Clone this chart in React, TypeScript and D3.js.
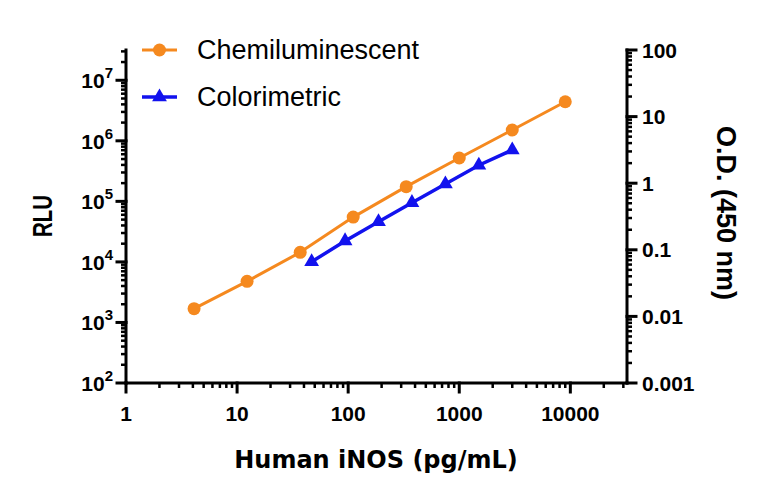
import React from "react";
import * as d3 from "d3";

const chemiConc = [4.1, 12.3, 37, 111, 333, 1000, 3000, 9000];
const chemiRLU = [1690, 4780, 14400, 55000, 175000, 520000, 1510000, 4420000];
const colorConc = [46.9, 93.75, 187.5, 375, 750, 1500, 3000];
const colorOD = [0.066, 0.136, 0.264, 0.51, 0.97, 1.86, 3.15];
const xMajor = [1, 10, 100, 1000, 10000];
const xMajorLabels = ["1", "10", "100", "1000", "10000"];
const leftExp = [2, 3, 4, 5, 6, 7];
const rightMajor = [0.001, 0.01, 0.1, 1, 10, 100];
const rightLabels = ["0.001", "0.01", "0.1", "1", "10", "100"];
const seriesNames = ["Chemiluminescent", "Colorimetric"];

const ORANGE = "#F5891F";
const BLUE = "#1212EE";
const TICKFONT = "'Liberation Sans', Arial, sans-serif";
const TITLEFONT = "'DejaVu Sans', sans-serif";
const NARROW = "'Liberation Sans Narrow', 'Liberation Sans', Arial, sans-serif";

function minors(lo: number, hi: number): number[] {
  const out: number[] = [];
  for (let e = Math.floor(Math.log10(lo)); e <= Math.ceil(Math.log10(hi)); e++) {
    for (let k = 2; k <= 9; k++) {
      const v = k * Math.pow(10, e);
      if (v > lo * 1.0001 && v < hi * 0.9999) out.push(v);
    }
  }
  return out;
}

export default function App() {
  const L = 126, R = 627, T = 50, B = 383;
  const xMax = Math.pow(10, 4.51);
  const x = d3.scaleLog().domain([1, xMax]).range([L, R]);
  const yL = d3.scaleLog().domain([100, Math.pow(10, 7.5)]).range([B, T]);
  const yR = d3.scaleLog().domain([0.001, 100]).range([B, T]);

  const chemiPts = chemiConc.map((c, i) => [x(c), yL(chemiRLU[i])] as [number, number]);
  const colorPts = colorConc.map((c, i) => [x(c), yR(colorOD[i])] as [number, number]);
  const line = d3.line();
  const tri = d3.symbol().type(d3.symbolTriangle).size(95)();

  const MAJ = 8, MIN = 5;

  return (
    <svg width={768} height={497} style={{ position: "absolute", left: 0, top: 0, background: "#fff" }}>
      <g stroke="#000" strokeLinecap="square">
        <line x1={L} x2={R} y1={B} y2={B} strokeWidth={3} />
        {xMajor.map((v) => (
          <line key={"xm" + v} x1={x(v)} x2={x(v)} y1={B} y2={B + MAJ + 1} strokeWidth={3} />
        ))}
        {minors(1, xMax).map((v) => (
          <line key={"xn" + v} x1={x(v)} x2={x(v)} y1={B} y2={B + MIN} strokeWidth={2.5} strokeLinecap="butt" />
        ))}
        <line x1={L} x2={L} y1={T} y2={B} strokeWidth={3} />
        {leftExp.map((e) => (
          <line key={"lm" + e} x1={L - MAJ - 1} x2={L} y1={yL(Math.pow(10, e))} y2={yL(Math.pow(10, e))} strokeWidth={3} />
        ))}
        {minors(100, Math.pow(10, 7.5)).map((v) => (
          <line key={"ln" + v} x1={L - MIN} x2={L} y1={yL(v)} y2={yL(v)} strokeWidth={2.5} strokeLinecap="butt" />
        ))}
        <line x1={R} x2={R} y1={T} y2={B} strokeWidth={3} />
        {rightMajor.map((v) => (
          <line key={"rm" + v} x1={R} x2={R + MAJ + 1} y1={yR(v)} y2={yR(v)} strokeWidth={3} />
        ))}
        {minors(0.001, 100).map((v) => (
          <line key={"rn" + v} x1={R} x2={R + MIN} y1={yR(v)} y2={yR(v)} strokeWidth={2.5} strokeLinecap="butt" />
        ))}
      </g>

      <g fontFamily={TICKFONT} fontWeight="bold" fontSize={21} fill="#000">
        {xMajor.map((v, i) => (
          <text key={"xl" + v} x={x(v)} y={421} textAnchor="middle">{xMajorLabels[i]}</text>
        ))}
        {leftExp.map((e) => (
          <text key={"ll" + e} x={113} y={yL(Math.pow(10, e)) + 8} textAnchor="end">
            10<tspan dy={-10} fontSize={15}>{e}</tspan>
          </text>
        ))}
        {rightMajor.map((v, i) => (
          <text key={"rl" + v} x={642} y={yR(v) + 7.5} textAnchor="start">{rightLabels[i]}</text>
        ))}
      </g>

      <text x={376} y={468} textAnchor="middle" fontFamily={TITLEFONT} fontWeight="bold" fontSize={24}>Human iNOS (pg/mL)</text>
      <text transform="translate(52,216) rotate(-90)" textAnchor="middle" fontFamily={NARROW} fontWeight="bold" fontSize={27} textLength={42} lengthAdjust="spacingAndGlyphs">RLU</text>
      <text transform="translate(717,213) rotate(90)" textAnchor="middle" fontFamily={TICKFONT} fontWeight="bold" fontSize={27}>O.D. (450 nm)</text>

      <path d={line(chemiPts) || ""} fill="none" stroke={ORANGE} strokeWidth={3} />
      {chemiPts.map((p, i) => (
        <circle key={"c" + i} cx={p[0]} cy={p[1]} r={6.5} fill={ORANGE} />
      ))}
      <path d={line(colorPts) || ""} fill="none" stroke={BLUE} strokeWidth={3.5} />
      {colorPts.map((p, i) => (
        <path key={"t" + i} d={tri || ""} transform={`translate(${p[0]},${p[1]})`} fill={BLUE} />
      ))}

      <g>
        <line x1={142} x2={177} y1={50} y2={50} stroke={ORANGE} strokeWidth={3} />
        <circle cx={159.5} cy={50} r={6.5} fill={ORANGE} />
        <text x={197} y={59} fontFamily={TICKFONT} fontSize={27}>{seriesNames[0]}</text>
        <line x1={142} x2={177} y1={97} y2={97} stroke={BLUE} strokeWidth={3.5} />
        <path d={tri || ""} transform="translate(159.5,97)" fill={BLUE} />
        <text x={197} y={106} fontFamily={TICKFONT} fontSize={27}>{seriesNames[1]}</text>
      </g>
    </svg>
  );
}
